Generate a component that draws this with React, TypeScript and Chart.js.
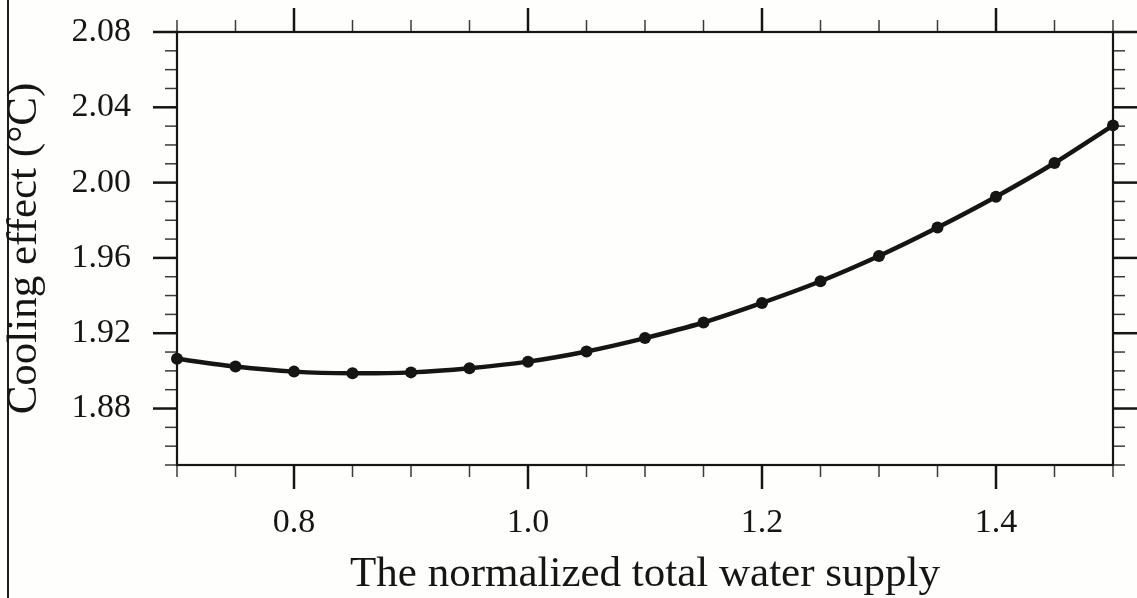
import { useEffect, useRef } from "react";
import { Chart, registerables } from "chart.js";

Chart.register(...registerables);

// Normalized total water supply (x) and cooling effect in °C (y)
const supply = [0.7, 0.75, 0.8, 0.85, 0.9, 0.95, 1.0, 1.05, 1.1, 1.15, 1.2, 1.25, 1.3, 1.35, 1.4, 1.45, 1.5];
const cooling = [
  1.9064, 1.9023, 1.8996, 1.8987, 1.8992, 1.9014, 1.9049, 1.9103, 1.9174,
  1.9257, 1.9361, 1.9476, 1.961, 1.9761, 1.9925, 2.0104, 2.0304,
];

// Axis ticks
const xMajorTicks = [0.8, 1.0, 1.2, 1.4];
const xMinorTicks = [0.7, 0.75, 0.85, 0.9, 0.95, 1.05, 1.1, 1.15, 1.25, 1.3, 1.35, 1.45, 1.5];
const yMajorTicks = [1.88, 1.92, 1.96, 2.0, 2.04, 2.08];
const yMinorTicks = [
  1.85, 1.86, 1.87, 1.89, 1.9, 1.91, 1.93, 1.94, 1.95, 1.97, 1.98, 1.99,
  2.01, 2.02, 2.03, 2.05, 2.06, 2.07,
];

const X_RANGE = [0.7, 1.5];
const Y_RANGE = [1.85, 2.08];

const INK = "#151515";
const FONT = "'Liberation Serif', 'Times New Roman', serif";

const W = 1137;
const H = 598;

// Draws the box around the plot area plus outward major/minor tick marks on all four sides
const frameTicks = {
  id: "frameTicks",
  beforeDatasetsDraw(chart: any) {
    const { ctx, chartArea, scales } = chart;
    const { left, right, top, bottom } = chartArea;
    const xs = scales.x;
    const ys = scales.y;
    const MAJOR = 24;
    const MINOR = 12;
    ctx.save();
    ctx.lineCap = "butt";
    const seg = (x1: number, y1: number, x2: number, y2: number, w: number, c: string) => {
      ctx.beginPath();
      ctx.lineWidth = w;
      ctx.strokeStyle = c;
      ctx.moveTo(x1, y1);
      ctx.lineTo(x2, y2);
      ctx.stroke();
    };
    xMinorTicks.forEach((v) => {
      const p = xs.getPixelForValue(v);
      seg(p, bottom, p, bottom + MINOR, 1.5, "#3a3a3a");
      seg(p, top, p, top - MINOR, 1.5, "#3a3a3a");
    });
    xMajorTicks.forEach((v) => {
      const p = xs.getPixelForValue(v);
      seg(p, bottom, p, bottom + MAJOR, 2.5, INK);
      seg(p, top, p, top - MAJOR, 2.5, INK);
    });
    yMinorTicks.forEach((v) => {
      const p = ys.getPixelForValue(v);
      seg(left, p, left - MINOR, p, 1.5, "#3a3a3a");
      seg(right, p, right + MINOR, p, 1.5, "#3a3a3a");
    });
    yMajorTicks.forEach((v) => {
      const p = ys.getPixelForValue(v);
      seg(left, p, left - MAJOR, p, 2.5, INK);
      seg(right, p, right + MAJOR, p, 2.5, INK);
    });
    ctx.lineWidth = 2.2;
    ctx.strokeStyle = INK;
    ctx.strokeRect(left, top, right - left, bottom - top);
    ctx.restore();
  },
};

export default function App() {
  const canvasRef = useRef<HTMLCanvasElement | null>(null);

  useEffect(() => {
    const canvas = canvasRef.current;
    if (!canvas) return;
    const chart = new Chart(canvas, {
      type: "line",
      data: {
        datasets: [
          {
            data: supply.map((s, i) => ({ x: s, y: cooling[i] })),
            borderColor: INK,
            backgroundColor: INK,
            borderWidth: 4.5,
            pointRadius: 6,
            pointBackgroundColor: INK,
            pointBorderColor: INK,
            pointBorderWidth: 0,
            tension: 0.15,
            clip: false as any,
          },
        ],
      },
      options: {
        responsive: false,
        animation: false,
        events: [],
        layout: { padding: { top: 32, right: 24, bottom: 0, left: 0 } },
        plugins: {
          legend: { display: false },
          tooltip: { enabled: false },
        },
        scales: {
          x: {
            type: "linear",
            min: X_RANGE[0],
            max: X_RANGE[1],
            grid: { display: false, drawTicks: false },
            border: { display: false },
            afterBuildTicks: (scale: any) => {
              scale.ticks = xMajorTicks.map((v) => ({ value: v }));
            },
            afterFit: (scale: any) => {
              scale.height = 133;
              scale.paddingLeft = 0;
              scale.paddingRight = 0;
            },
            ticks: {
              autoSkip: false,
              maxRotation: 0,
              padding: 41,
              color: INK,
              font: { family: FONT, size: 34, lineHeight: 1 },
              callback: (v: any) => Number(v).toFixed(1),
            },
            title: {
              display: true,
              text: "The normalized total water supply",
              color: INK,
              font: { family: FONT, size: 43, lineHeight: 1 },
              padding: { top: 0, bottom: 2 },
            },
          },
          y: {
            type: "linear",
            min: Y_RANGE[0],
            max: Y_RANGE[1],
            grid: { display: false, drawTicks: false },
            border: { display: false },
            afterBuildTicks: (scale: any) => {
              scale.ticks = yMajorTicks.map((v) => ({ value: v }));
            },
            afterFit: (scale: any) => {
              scale.width = 177;
              scale.paddingTop = 0;
              scale.paddingBottom = 0;
            },
            ticks: {
              autoSkip: false,
              padding: 46,
              color: INK,
              font: { family: FONT, size: 34, lineHeight: 1 },
              callback: (v: any) => Number(v).toFixed(2),
            },
            title: {
              display: true,
              text: "Cooling effect (°C)",
              color: INK,
              font: { family: FONT, size: 43, lineHeight: 1 },
              padding: { top: 3, bottom: 0 },
            },
          },
        },
      },
      plugins: [frameTicks],
    });
    return () => chart.destroy();
  }, []);

  return (
    <div style={{ position: "absolute", left: 0, top: 0, width: W, height: H, background: "#fefefd" }}>
      <div style={{ position: "absolute", left: 7, top: 0, width: 2, height: H, background: "#1c1c1c" }} />
      <canvas ref={canvasRef} width={W} height={H} style={{ position: "absolute", left: 0, top: 0, display: "block" }} />
    </div>
  );
}
